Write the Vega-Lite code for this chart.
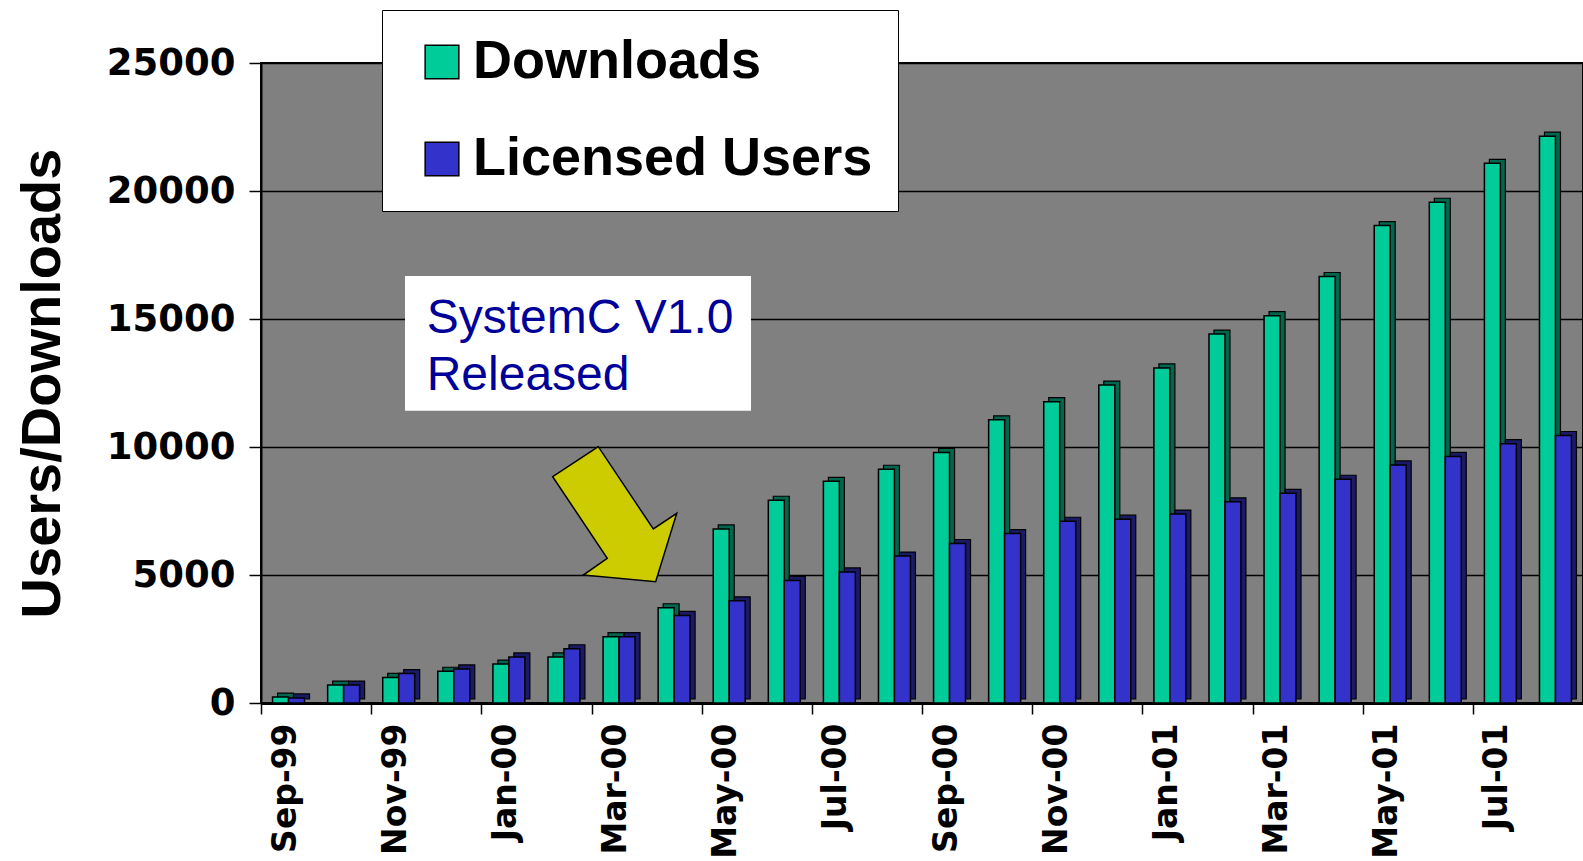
{
  "$schema": "https://vega.github.io/schema/vega-lite/v6.json",
  "autosize": {"type": "none"},
  "padding": {"left": 261, "top": 63, "right": 0, "bottom": 158},
  "width": 1322,
  "height": 640,
  "background": "white",
  "datasets": {
    "bars": [
      {"month": "Sep-99", "series": "Downloads", "value": 230}, {"month": "Sep-99", "series": "Licensed Users", "value": 200},
      {"month": "Oct-99", "series": "Downloads", "value": 700}, {"month": "Oct-99", "series": "Licensed Users", "value": 700},
      {"month": "Nov-99", "series": "Downloads", "value": 1000}, {"month": "Nov-99", "series": "Licensed Users", "value": 1150},
      {"month": "Dec-99", "series": "Downloads", "value": 1240}, {"month": "Dec-99", "series": "Licensed Users", "value": 1330},
      {"month": "Jan-00", "series": "Downloads", "value": 1520}, {"month": "Jan-00", "series": "Licensed Users", "value": 1800},
      {"month": "Feb-00", "series": "Downloads", "value": 1800}, {"month": "Feb-00", "series": "Licensed Users", "value": 2120},
      {"month": "Mar-00", "series": "Downloads", "value": 2590}, {"month": "Mar-00", "series": "Licensed Users", "value": 2590},
      {"month": "Apr-00", "series": "Downloads", "value": 3720}, {"month": "Apr-00", "series": "Licensed Users", "value": 3420},
      {"month": "May-00", "series": "Downloads", "value": 6800}, {"month": "May-00", "series": "Licensed Users", "value": 3990},
      {"month": "Jun-00", "series": "Downloads", "value": 7920}, {"month": "Jun-00", "series": "Licensed Users", "value": 4790},
      {"month": "Jul-00", "series": "Downloads", "value": 8660}, {"month": "Jul-00", "series": "Licensed Users", "value": 5120},
      {"month": "Aug-00", "series": "Downloads", "value": 9130}, {"month": "Aug-00", "series": "Licensed Users", "value": 5740},
      {"month": "Sep-00", "series": "Downloads", "value": 9790}, {"month": "Sep-00", "series": "Licensed Users", "value": 6230},
      {"month": "Oct-00", "series": "Downloads", "value": 11060}, {"month": "Oct-00", "series": "Licensed Users", "value": 6620},
      {"month": "Nov-00", "series": "Downloads", "value": 11770}, {"month": "Nov-00", "series": "Licensed Users", "value": 7100},
      {"month": "Dec-00", "series": "Downloads", "value": 12420}, {"month": "Dec-00", "series": "Licensed Users", "value": 7180},
      {"month": "Jan-01", "series": "Downloads", "value": 13090}, {"month": "Jan-01", "series": "Licensed Users", "value": 7380},
      {"month": "Feb-01", "series": "Downloads", "value": 14410}, {"month": "Feb-01", "series": "Licensed Users", "value": 7860},
      {"month": "Mar-01", "series": "Downloads", "value": 15130}, {"month": "Mar-01", "series": "Licensed Users", "value": 8190},
      {"month": "Apr-01", "series": "Downloads", "value": 16660}, {"month": "Apr-01", "series": "Licensed Users", "value": 8740},
      {"month": "May-01", "series": "Downloads", "value": 18650}, {"month": "May-01", "series": "Licensed Users", "value": 9300},
      {"month": "Jun-01", "series": "Downloads", "value": 19560}, {"month": "Jun-01", "series": "Licensed Users", "value": 9630},
      {"month": "Jul-01", "series": "Downloads", "value": 21080}, {"month": "Jul-01", "series": "Licensed Users", "value": 10130},
      {"month": "Aug-01", "series": "Downloads", "value": 22140}, {"month": "Aug-01", "series": "Licensed Users", "value": 10450}
    ],
    "notes": [
      {"kind": "box", "x": 2.614, "x2": 8.896, "y": 16680, "y2": 11418},
      {"kind": "label", "x": 3.008, "y": 14465, "text": "SystemC V1.0\nReleased"},
      {"kind": "arrow", "x": 6.421, "y": 7375}
    ]
  },
  "layer": [
    {
      "data": {"name": "bars"},
      "layer": [
        {
          "mark": {"type": "bar", "yOffset": -4, "y2Offset": -4, "stroke": "black", "strokeWidth": 1.2},
          "encoding": {
            "x": {"field": "month", "type": "nominal", "sort": null},
            "xOffset": {"field": "series", "type": "nominal", "sort": ["Downloads", "Licensed Users"], "scale": {"range": [5, 36.95]}},
            "y": {"field": "value", "type": "quantitative"},
            "fill": {"condition": {"test": "datum.series === 'Downloads'", "value": "#00664D"}, "value": "#1A1A66"}
          }
        },
        {
          "mark": {"type": "bar", "stroke": "black", "strokeWidth": 1.5},
          "encoding": {
            "x": {
              "field": "month", "type": "nominal", "sort": null, "title": null,
              "scale": {
                "domain": ["Sep-99","Oct-99","Nov-99","Dec-99","Jan-00","Feb-00","Mar-00","Apr-00","May-00","Jun-00","Jul-00","Aug-00","Sep-00","Oct-00","Nov-00","Dec-00","Jan-01","Feb-01","Mar-01","Apr-01","May-01","Jun-01","Jul-01","Aug-01"],
                "paddingInner": 0.42, "paddingOuter": 0.21
              },
              "axis": {
                "values": ["Sep-99","Nov-99","Jan-00","Mar-00","May-00","Jul-00","Sep-00","Nov-00","Jan-01","Mar-01","May-01","Jul-01"],
                "tickOffset": -27.5, "labelOffset": 24,
                "labelAngle": -90, "labelAlign": "right", "labelBaseline": "middle",
                "labelFont": "DejaVu Sans", "labelFontWeight": "bold", "labelFontSize": 33, "labelColor": "black",
                "labelPadding": 9, "tickSize": 11, "tickColor": "black", "tickWidth": 1.5,
                "domainColor": "black", "domainWidth": 3, "grid": false
              }
            },
            "xOffset": {"field": "series", "type": "nominal", "sort": ["Downloads", "Licensed Users"], "scale": {"range": [0, 31.95]}},
            "y": {
              "field": "value", "type": "quantitative", "title": "Users/Downloads",
              "scale": {"domain": [0, 25000], "nice": false},
              "axis": {
                "values": [0, 5000, 10000, 15000, 20000, 25000], "format": "d",
                "labelFont": "DejaVu Sans", "labelFontWeight": "bold", "labelFontSize": 37, "labelColor": "black",
                "labelPadding": 14, "tickSize": 12, "tickColor": "black", "tickWidth": 1.5,
                "domainColor": "black", "domainWidth": 2,
                "grid": true, "gridColor": "black", "gridWidth": 1.5,
                "titleFont": "Liberation Sans", "titleFontSize": 56, "titleFontWeight": "bold", "titleColor": "black", "titlePadding": 35
              }
            },
            "color": {
              "field": "series", "type": "nominal",
              "scale": {"domain": ["Downloads", "Licensed Users"], "range": ["#00CC99", "#3333CC"]},
              "legend": {
                "title": null, "orient": "none", "legendX": 121, "legendY": -53,
                "fillColor": "white", "strokeColor": "black", "padding": 25,
                "symbolType": "square", "symbolSize": 1136, "symbolStrokeColor": "black", "symbolStrokeWidth": 1.5,
                "symbolOffset": 8, "labelOffset": 4,
                "labelFont": "Liberation Sans", "labelFontWeight": "bold", "labelFontSize": 54, "labelColor": "black", "labelLimit": 0,
                "rowPadding": 43
              }
            }
          }
        }
      ],
      "resolve": {"scale": {"xOffset": "independent"}}
    },
    {
      "data": {"name": "notes"},
      "layer": [
        {
          "transform": [{"filter": "datum.kind === 'box'"}],
          "mark": {"type": "rect", "fill": "white"},
          "encoding": {
            "x": {"field": "x", "type": "quantitative", "scale": {"domain": [0, 24], "nice": false, "zero": false}, "axis": null},
            "x2": {"field": "x2"},
            "y": {"field": "y", "type": "quantitative"},
            "y2": {"field": "y2"}
          }
        },
        {
          "transform": [{"filter": "datum.kind === 'label'"}],
          "mark": {"type": "text", "align": "left", "baseline": "alphabetic", "lineBreak": "\n", "lineHeight": 57, "font": "Liberation Sans", "fontSize": 48, "color": "#000099"},
          "encoding": {
            "x": {"field": "x", "type": "quantitative", "scale": {"domain": [0, 24], "nice": false, "zero": false}, "axis": null},
            "y": {"field": "y", "type": "quantitative"},
            "text": {"field": "text", "type": "nominal"}
          }
        },
        {
          "transform": [{"filter": "datum.kind === 'arrow'"}],
          "mark": {"type": "point", "filled": true, "fill": "#CCCC00", "stroke": "black", "strokeWidth": 1.5, "opacity": 1, "size": 18225,
                   "shape": "M-0.243,-1L-0.919,-0.556L-0.11,0.653L-0.465,0.901L0.607,1L0.919,-0.013L0.572,0.219Z"},
          "encoding": {
            "x": {"field": "x", "type": "quantitative", "scale": {"domain": [0, 24], "nice": false, "zero": false}, "axis": null},
            "y": {"field": "y", "type": "quantitative"}
          }
        }
      ]
    }
  ],
  "resolve": {"scale": {"x": "independent"}},
  "config": {
    "font": "Liberation Sans",
    "view": {"fill": "#808080", "stroke": "black", "strokeWidth": 2}
  }
}
